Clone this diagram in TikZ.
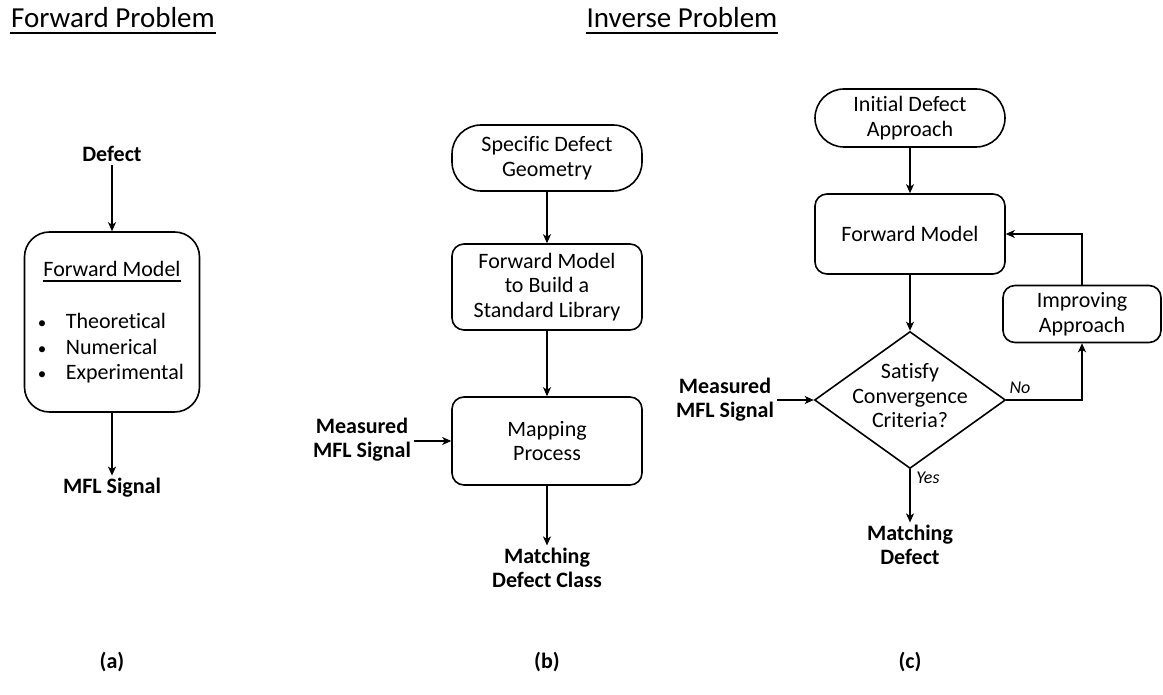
\documentclass[tikz,border=0pt]{standalone}
\usepackage{fontspec}
\setmainfont{Carlito}[Ligatures={NoCommon}]
\usetikzlibrary{arrows.meta,shapes.geometric}
\begin{document}
\begin{tikzpicture}[x=1pt,y=-1pt,
  line width=1.6pt,
  body/.style={font=\fontsize{22}{24.5}\selectfont, align=center},
  lbl/.style={font=\fontsize{22}{24}\selectfont\bfseries, align=center, inner sep=2pt},
  title/.style={font=\fontsize{29}{32}\selectfont, inner sep=0pt, anchor=base},
  box/.style={draw, rounded corners=12pt, body, minimum width=190pt, inner sep=0pt},
  term/.style={box, rounded corners=29pt},
  flow/.style={-{Stealth[length=9pt,width=8pt,inset=2.5pt]}, line width=1.4pt},
  branch/.style={font=\fontsize{18}{20}\selectfont\itshape, inner sep=0pt},
  uline/.style={line width=1.6pt},
]
\useasboundingbox (0,0) rectangle (1163,695);

% headings
\node[title] (tf) at (113,28) {Forward Problem};
\draw[uline] ([yshift=-5pt]tf.base west) -- ([yshift=-5pt]tf.base east);
\node[title] (ti) at (682,28) {Inverse Problem};
\draw[uline] ([yshift=-5pt]ti.base west) -- ([yshift=-5pt]ti.base east);

% (a) forward problem
\node[lbl] (defA) at (112,154) {Defect};
\node[draw, rounded corners=25pt, minimum width=175pt, minimum height=180pt] (fwA) at (112,322) {};
\node[body, inner sep=0pt, anchor=base] (fwAt) at (112,277) {Forward Model};
\draw[line width=1.1pt] ([yshift=-4pt]fwAt.base west) -- ([yshift=-4pt]fwAt.base east);
\node[body, inner sep=0pt, anchor=base, font=\fontsize{17}{20}\selectfont] (bu1) at (42,329) {\textbullet};
\node[body, inner sep=0pt, anchor=base, font=\fontsize{17}{20}\selectfont] (bu2) at (42,354) {\textbullet};
\node[body, inner sep=0pt, anchor=base, font=\fontsize{17}{20}\selectfont] (bu3) at (42,379) {\textbullet};
\node[body, inner sep=0pt, anchor=base west] (it1) at (65,329) {Theoretical};
\node[body, inner sep=0pt, anchor=base west] (it2) at (65,354) {Numerical};
\node[body, inner sep=0pt, anchor=base west] (it3) at (65,379) {Experimental};
\node[lbl] (mflA) at (112,488) {MFL Signal};
\node[lbl] (capA) at (112,662) {(a)};

\draw[flow] (defA) -- (fwA);
\draw[flow] (fwA) -- (mflA);

% (b) library mapping
\node[term, minimum height=66pt] (b1) at (547,158) {Specific Defect\\Geometry};
\node[box, minimum height=86pt] (b2) at (547,287) {Forward Model\\to Build a\\Standard Library};
\node[box, minimum height=88pt] (b3) at (547,441) {Mapping\\Process};
\node[lbl] (mb) at (362,440) {Measured\\MFL Signal};
\node[lbl] (ob) at (547,568) {Matching\\Defect Class};
\node[lbl] (capB) at (547,662) {(b)};

\draw[flow] (b1) -- (b2);
\draw[flow] (b2) -- (b3);
\draw[flow] (mb.east |- b3.west) -- (b3.west);
\draw[flow] (b3) -- (ob);

% (c) iterative inversion
\node[term, minimum height=58pt] (c1) at (910,118) {Initial Defect\\Approach};
\node[box, minimum height=80pt] (c2) at (910,234) {Forward Model};
\node[draw, diamond, minimum width=191pt, minimum height=137pt, inner sep=0pt] (dia) at (910,400) {};
\node[body, inner sep=0pt] (diat) at (910,396) {Satisfy\\Convergence\\Criteria?};
\node[box, minimum width=158pt, minimum height=57pt] (imp) at (1082,314) {Improving\\Approach};
\node[lbl] (mc) at (725,400) {Measured\\MFL Signal};
\node[lbl] (oc) at (910,545) {Matching\\Defect};
\node[branch] (no) at (1020,388) {No};
\node[branch] (yes) at (928,478) {Yes};
\node[lbl] (capC) at (910,662) {(c)};

\draw[flow] (c1) -- (c2);
\draw[flow] (c2) -- (dia.north);
\draw[flow] (mc.east |- dia.west) -- (dia.west);
\draw[flow] (dia.south) -- (oc);
\draw[flow] (dia.east) -| (imp.south);
\draw[flow] (imp.north) |- (c2.east);
\end{tikzpicture}
\end{document}
